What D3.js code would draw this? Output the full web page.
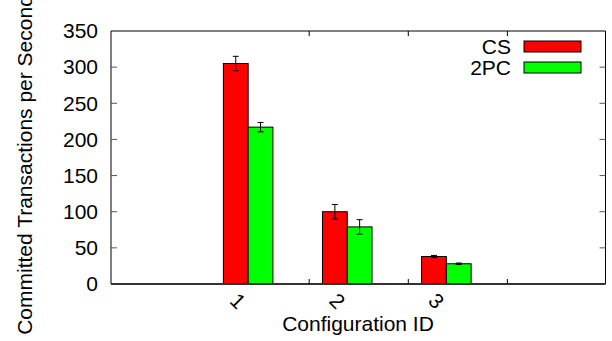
<!DOCTYPE html>
<html><head><meta charset="utf-8">
<script src="https://cdn.jsdelivr.net/npm/d3@7"></script>
<style>body{margin:0;background:#fff}svg{display:block}text{font-family:"Liberation Sans",Arial,sans-serif;fill:#000}</style>
</head><body><svg id="c" width="612" height="341"></svg>
<script>
const categories = ["1","2","3"];
const seriesNames = ["CS","2PC"];
const csValues = [305, 100, 38];
const csErrors = [10, 10, 1.5];
const pcValues = [217, 79, 28];
const pcErrors = [6.5, 10, 1];
const yTicks = [0,50,100,150,200,250,300,350];
const colors = ["#ff0000","#00ff00"];

const FS = 21;
const svg = d3.select("#c");
const L=111, R=605.5, T=31, B=284;
const y = d3.scaleLinear().domain([0,350]).range([B,T]);
const x = d3.scaleLinear().domain([-1.384, 3.606]).range([L,R]);
const barW = x(0.25)-x(0);
const series = [
  {name:seriesNames[0], vals:csValues, errs:csErrors, color:colors[0], off:-1},
  {name:seriesNames[1], vals:pcValues, errs:pcErrors, color:colors[1], off:0}
];

series.forEach(s=>{
  const g = svg.append("g");
  g.selectAll("rect").data(s.vals).join("rect")
    .attr("x",(d,i)=>x(i)+s.off*barW)
    .attr("y",d=>y(d))
    .attr("width",barW)
    .attr("height",d=>B-y(d))
    .attr("fill",s.color).attr("stroke","#000").attr("stroke-width",1);
  s.vals.forEach((v,i)=>{
    const cx = x(i)+s.off*barW+barW/2;
    const e = s.errs[i];
    g.append("line").attr("x1",cx).attr("x2",cx).attr("y1",y(v+e)).attr("y2",y(v-e)).attr("stroke","#000");
    [v+e,v-e].forEach(t=>g.append("line").attr("x1",cx-3).attr("x2",cx+3).attr("y1",y(t)).attr("y2",y(t)).attr("stroke","#000"));
  });
});

svg.append("line").attr("x1",L).attr("x2",L).attr("y1",T).attr("y2",B).attr("stroke","#000");
svg.append("line").attr("x1",L).attr("x2",R).attr("y1",T).attr("y2",T).attr("stroke","#000");
svg.append("line").attr("x1",R).attr("x2",R).attr("y1",T).attr("y2",B).attr("stroke","#000");
svg.append("line").attr("x1",L).attr("x2",R).attr("y1",B).attr("y2",B).attr("stroke","#333").attr("stroke-width",2);

const yAxis = d3.axisLeft(y).tickValues(yTicks).tickSize(0).tickPadding(13);
const ya = svg.append("g").attr("transform",`translate(${L},0)`).call(yAxis);
ya.select(".domain").remove();
ya.selectAll("text").attr("font-size",FS).attr("font-family","Liberation Sans, Arial, sans-serif").attr("fill","#000");
yTicks.slice(1,-1).forEach(t=>{
  svg.append("line").attr("x1",L).attr("x2",L+6).attr("y1",y(t)).attr("y2",y(t)).attr("stroke","#555");
  svg.append("line").attr("x1",R-6).attr("x2",R).attr("y1",y(t)).attr("y2",y(t)).attr("stroke","#555");
});

const xTickPos = [0.616,1.616,2.616];
xTickPos.forEach(p=>{
  svg.append("line").attr("x1",x(p)).attr("x2",x(p)).attr("y1",B).attr("y2",B-5).attr("stroke","#000");
  svg.append("line").attr("x1",x(p)).attr("x2",x(p)).attr("y1",T).attr("y2",T+5).attr("stroke","#000");
});
categories.forEach((c,i)=>{
  const cx = x(i)-10, cy = 301;
  svg.append("text").attr("transform",`translate(${cx},${cy}) rotate(45)`)
    .attr("text-anchor","middle").attr("dy","0.35em").attr("font-size",FS).text(c);
});

svg.append("text").attr("x",358).attr("y",331).attr("text-anchor","middle").attr("font-size",FS).text("Configuration ID");
svg.append("text").attr("transform",`translate(32,165) rotate(-90)`).attr("text-anchor","middle").attr("font-size",FS).text("Committed Transactions per Second");

series.forEach((s,i)=>{
  const ly = 41 + i*21;
  svg.append("text").attr("x",511).attr("y",ly+12.5).attr("text-anchor","end").attr("font-size",FS).text(s.name);
  svg.append("rect").attr("x",524).attr("y",ly).attr("width",57).attr("height",11).attr("fill",s.color).attr("stroke","#000");
});
</script></body></html>
